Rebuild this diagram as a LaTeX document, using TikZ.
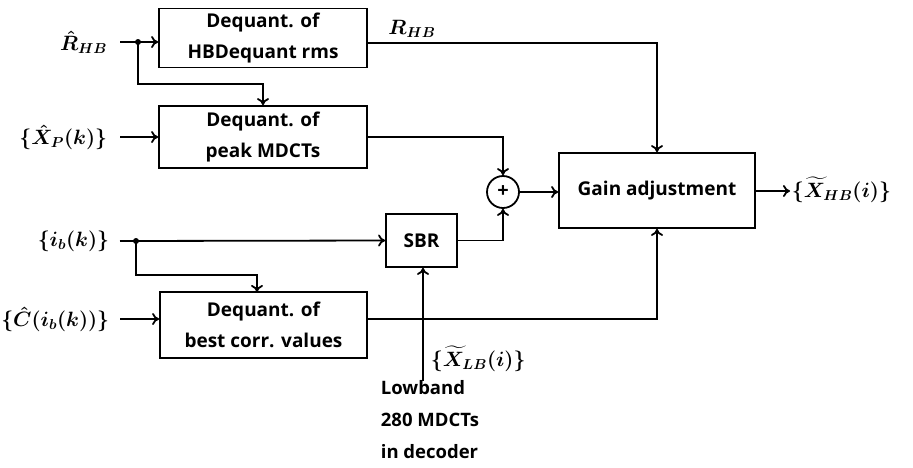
\documentclass[tikz,border=0pt]{standalone}
\usepackage{amsmath}
\usepackage{fontspec}
\setmainfont{Open Sans}
\usetikzlibrary{arrows.meta,calc}
\begin{document}
\begin{tikzpicture}[x=1pt,y=-1pt, line width=1.8pt,
  box/.style={draw, rectangle, inner sep=0pt, align=center, font=\fontsize{19}{31}\selectfont\bfseries},
  arr/.style={-{To[length=7pt,width=12pt]}},
  lab/.style={font=\fontsize{21}{24}\selectfont\boldmath, inner sep=0pt},
  txt/.style={font=\fontsize{18.5}{32}\selectfont\bfseries, inner sep=0pt, align=left}]
\useasboundingbox (0,0) rectangle (913,467);

% boxes
\node[box, minimum width=208pt, minimum height=59pt] (b1) at (263,38) {Dequant. of\\HBDequant rms};
\node[box, minimum width=208pt, minimum height=62pt] (b2) at (263,137) {Dequant. of\\peak MDCTs};
\node[box, minimum width=207pt, minimum height=66pt] (b3) at (263.5,325) {Dequant. of\\best corr. values};
\node[box, minimum width=71pt, minimum height=53pt] (sbr) at (421.5,240.5) {SBR};
\node[draw, circle, minimum size=32pt, inner sep=0pt, font=\fontsize{20}{22}\selectfont\bfseries] (plus) at (503,192) {+};
\node[box, minimum width=196pt, minimum height=75pt] (gain) at (657,190.5) {Gain adjustment};

% input labels
\node[lab, anchor=east] (lR) at (108,42) {$\hat{R}_{HB}$};
\node[lab, anchor=east] (lX) at (108,137) {$\{\hat{X}_P(k)\}$};
\node[lab, anchor=east] (li) at (110,241) {$\{i_b(k)\}$};
\node[lab, anchor=east] (lC) at (110,319) {$\{\hat{C}(i_b(k))\}$};
\node[lab, anchor=west] (lout) at (791,190) {$\{\widetilde{X}_{HB}(i)\}$};
\node[lab] (lRHB) at (412,29) {$R_{HB}$};
\node[lab, anchor=west] (lLB) at (430,359) {$\{\widetilde{X}_{LB}(i)\}$};
\node[txt, anchor=north west] (low) at (380,380) {Lowband\\280 MDCTs\\in decoder};

% coordinates
\coordinate (iR) at (120,42);
\coordinate (iX) at (120,137);
\coordinate (ii) at (120,241);
\coordinate (iC) at (120,319);
\coordinate (d1) at (138,42);
\coordinate (d2) at (136,241);
\coordinate (oR) at (367,43);
\coordinate (oC) at (367,319);
\coordinate (lbIn) at (423,381);
\coordinate (b3in) at (257,292);

% connectors
\draw[arr] (iR) -- (iR -| b1.west);
\fill (d1) circle (3pt);
\draw[arr] (d1) |- (138,84) -| (b2.north);
\draw[arr] (iX) -- (b2.west);
\draw[arr] (ii) -- (sbr.west);
\fill (d2) circle (3pt);
\draw[arr] (d2) |- (257,275) -- (b3in);
\draw[arr] (iC) -- (iC -| b3.west);
\draw[arr] (oR) -| (gain.north);
\draw[arr] (b2.east) -| (plus.north);
\draw[arr] (sbr.east) -| (plus.south);
\draw[arr] (plus.east) -- (plus.east -| gain.west);
\draw[arr] (oC) -| (gain.south);
\draw[arr] (lbIn) -- (lbIn |- sbr.south);
\draw[arr] (gain.east |- 0,191) -- (790,191);
\end{tikzpicture}
\end{document}
